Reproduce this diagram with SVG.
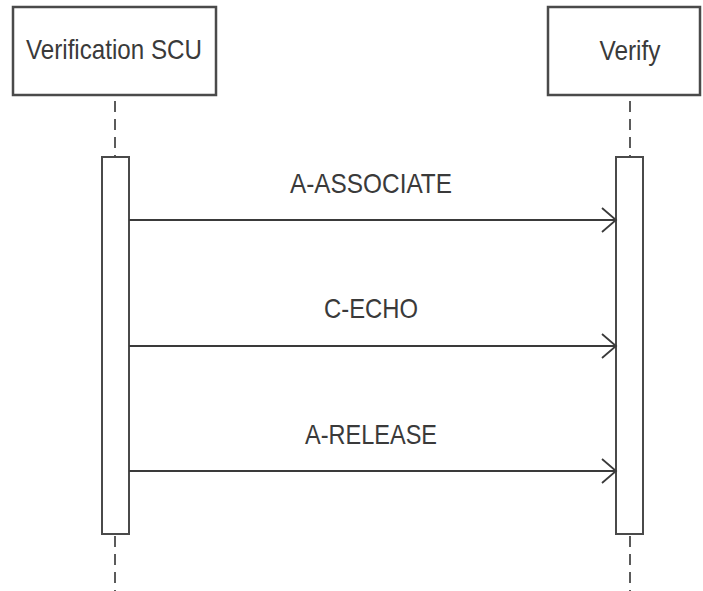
<svg xmlns="http://www.w3.org/2000/svg" width="703" height="591" viewBox="0 0 703 591">
<style>
.hdr{fill:#fff;stroke:#4a4a4a;stroke-width:2.5}
.act{fill:#fff;stroke:#4a4a4a;stroke-width:2}
.life{stroke:#4a4a4a;stroke-width:1.8;stroke-dasharray:11 7;fill:none}
.msg{stroke:#3a3a3a;stroke-width:2;fill:none}
.t{font-family:"Liberation Sans",Arial,sans-serif;font-size:28px;fill:#3a3a3a;text-anchor:middle}
</style>
<defs>
<marker id="open" markerUnits="userSpaceOnUse" markerWidth="20" markerHeight="30" refX="15" refY="13" orient="auto" viewBox="0 0 20 26">
<path d="M1,1 L15,13 L1,25" fill="none" stroke="#3a3a3a" stroke-width="1.8"/>
</marker>
</defs>
<g id="lifelines">
<line class="life" x1="115" y1="101" x2="115" y2="157"/>
<line class="life" x1="630" y1="101" x2="630" y2="157"/>
<line class="life" x1="115" y1="536" x2="115" y2="591"/>
<line class="life" x1="630" y1="536" x2="630" y2="591"/>
</g>
<g id="node-scu">
<rect class="hdr" x="13" y="7" width="203" height="88"/>
<text class="t" x="114" y="59" textLength="176" lengthAdjust="spacingAndGlyphs">Verification SCU</text>
</g>
<g id="node-verify">
<rect class="hdr" x="548" y="7" width="152" height="88"/>
<text class="t" x="630" y="60" textLength="61" lengthAdjust="spacingAndGlyphs">Verify</text>
</g>
<g id="act-scu">
<rect class="act" x="102" y="157" width="27" height="377"/>
</g>
<g id="act-verify">
<rect class="act" x="616" y="157" width="27" height="377"/>
</g>
<g id="connectors">
<line class="msg" x1="129" y1="220" x2="616" y2="220" marker-end="url(#open)"/>
<line class="msg" x1="129" y1="346" x2="616" y2="346" marker-end="url(#open)"/>
<line class="msg" x1="129" y1="471" x2="616" y2="471" marker-end="url(#open)"/>
</g>
<g id="labels">
<text class="t" x="371" y="193" textLength="162" lengthAdjust="spacingAndGlyphs">A-ASSOCIATE</text>
<text class="t" x="371" y="318" textLength="94" lengthAdjust="spacingAndGlyphs">C-ECHO</text>
<text class="t" x="371" y="444" textLength="132" lengthAdjust="spacingAndGlyphs">A-RELEASE</text>
</g>
</svg>
